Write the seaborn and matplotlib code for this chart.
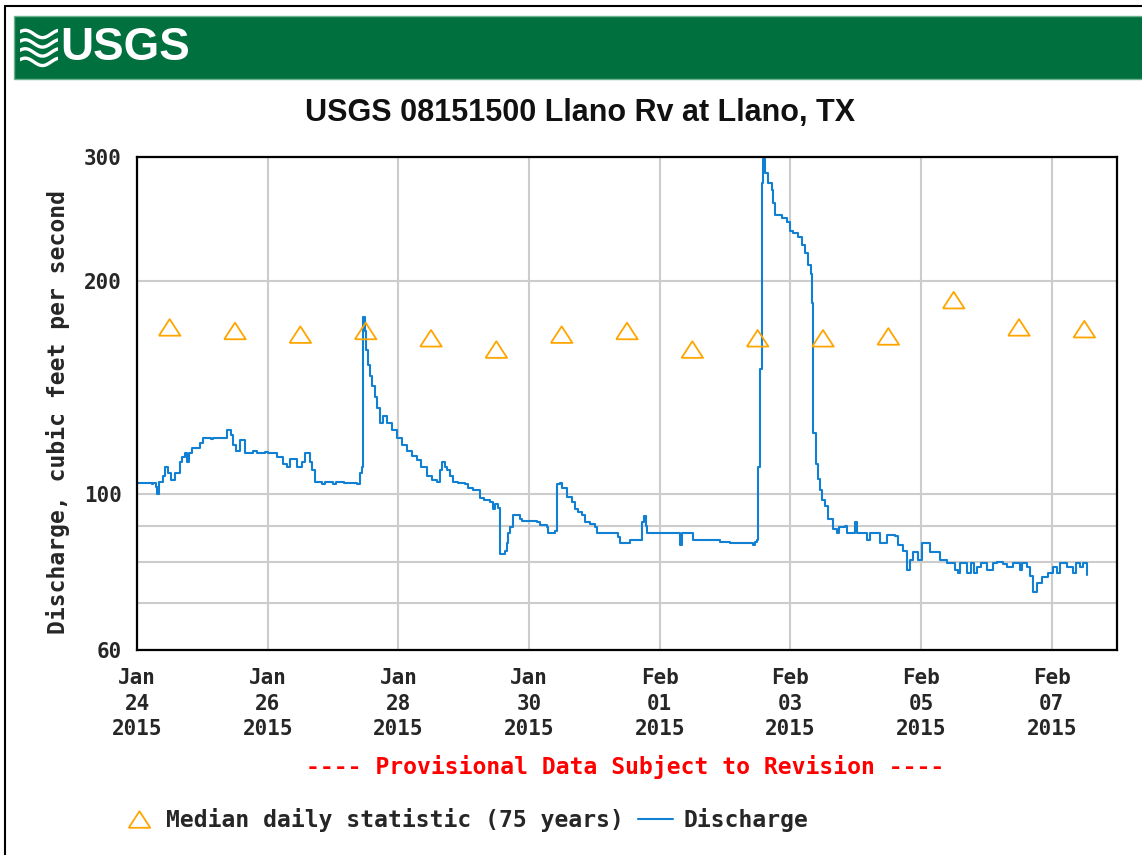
import numpy as np
import pandas as pd
import seaborn as sns
import matplotlib.pyplot as plt
import matplotlib.ticker as mticker
from matplotlib.patches import Rectangle
from matplotlib.lines import Line2D

sns.set_theme(style='white')
plt.rcParams['font.family'] = ['DejaVu Sans Mono', 'DejaVu Sans']

start = pd.Timestamp('2015-01-24')

# discharge (cfs), step series: hours after Jan 24 00:00
hours = [0.0, 5.5, 6.0, 7.0, 7.3, 8.0, 9.5, 10.3, 11.5, 12.4, 13.8, 15.8, 16.5, 17.6, 18.5, 19.2,
         20.2, 23.1, 24.2, 27.0, 28.0, 33.0, 34.6, 35.3, 36.5, 37.8, 39.7, 42.6, 44.1, 47.0, 48.0,
         51.4, 53.6, 55.1, 56.2, 58.8, 60.5, 61.8, 63.5, 64.3, 65.4, 68.0, 69.0, 72.0, 73.0, 76.0,
         80.8, 81.9, 82.6, 83.0, 83.6, 84.1, 85.0, 85.6, 86.5, 87.4, 88.3, 89.2, 90.5, 91.8, 93.5,
         95.5, 97.5, 99.1, 101.0, 102.8, 104.5, 106.5, 108.5, 110.2, 111.2, 112.0, 113.0, 113.8,
         115.0, 116.0, 117.9, 120.4, 121.5, 123.5, 126.0, 127.5, 129.6, 130.7, 131.5, 132.6, 133.3,
         135.1, 135.8, 136.2, 137.0, 138.1, 140.6, 141.4, 146.9, 148.0, 150.6, 150.9, 153.5, 154.2,
         155.5, 156.1, 157.9, 159.7, 160.8, 162.0, 163.4, 164.5, 166.5, 168.2, 168.9, 173.7, 176.6,
         177.4, 180.3, 181.0, 184.7, 185.4, 186.2, 186.8, 187.3, 199.4, 200.1, 203.1, 204.2, 208.0,
         214.1, 217.7, 226.2, 226.9, 227.7, 228.0, 228.8, 229.5, 229.9, 230.6, 231.7, 233.2, 233.5,
         234.3, 236.8, 238.7, 239.8, 240.9, 242.7, 244.2, 245.3, 246.4, 247.5, 247.9, 248.2, 249.3,
         250.1, 250.8, 251.7, 252.6, 253.7, 255.6, 257.0, 258.0, 260.0, 260.7, 262.9, 263.6, 264.4,
         266.6, 268.1, 269.2, 272.1, 272.8, 275.4, 278.3, 279.4, 281.3, 282.7, 283.9, 285.0, 286.4,
         286.8, 288.3, 290.1, 291.2, 293.0, 294.9, 297.4, 299.6, 300.5, 301.5, 302.4, 303.3, 305.0,
         306.5, 307.5, 308.4, 310.0, 312.1, 314.3, 316.0, 318.0, 319.5, 321.7, 324.2, 325.0, 326.8,
         328.0, 329.0, 330.5, 332.3, 334.5, 336.4, 338.0, 339.0, 341.5, 343.7, 345.0, 346.3, 347.5,
         348.8]
discharge = [103.5, 103.0, 103.5, 102.0, 100.0, 103.8, 106.0, 109.0, 107.0, 104.5, 107.0, 111.0,
             112.6, 114.0, 111.0, 114.0, 116.0, 118.0, 120.0, 119.5, 120.0, 123.0, 121.0, 117.0,
             115.0, 119.0, 114.0, 115.0, 114.0, 114.5, 114.0, 112.6, 110.0, 109.0, 112.0, 109.0,
             111.0, 114.0, 111.0, 108.0, 104.0, 103.0, 104.0, 103.0, 104.0, 103.5, 103.0, 107.0,
             109.0, 178.0, 170.0, 160.0, 152.0, 147.0, 142.0, 137.0, 132.0, 126.0, 129.0, 126.0,
             123.0, 120.0, 117.0, 115.0, 113.0, 111.5, 109.0, 106.0, 104.5, 103.8, 108.0, 111.0,
             109.0, 108.0, 106.0, 104.0, 103.5, 103.0, 101.8, 101.0, 98.5, 98.0, 97.3, 95.0, 96.5,
             95.4, 82.0, 83.0, 85.0, 88.0, 89.6, 93.2, 92.0, 91.5, 91.0, 90.2, 89.6, 88.0, 88.5,
             103.0, 103.5, 101.8, 99.0, 97.3, 95.0, 94.0, 93.2, 91.1, 90.5, 89.6, 87.9, 87.9, 86.8,
             85.0, 85.0, 86.0, 86.0, 91.0, 93.0, 90.0, 88.0, 84.5, 88.0, 88.0, 86.0, 86.0, 85.5,
             85.0, 84.5, 85.5, 86.0, 109.0, 150.0, 276.0, 298.0, 285.0, 276.0, 269.0, 258.0, 248.0,
             246.0, 243.0, 236.0, 234.0, 231.0, 225.0, 219.0, 211.0, 205.0, 186.0, 122.0, 110.0,
             105.0, 101.0, 98.0, 96.0, 92.0, 89.0, 88.0, 89.6, 90.0, 88.0, 88.0, 91.0, 88.0, 88.0,
             86.0, 88.0, 88.0, 85.0, 87.4, 87.0, 84.5, 83.0, 78.0, 80.5, 82.6, 82.6, 80.5, 85.1,
             85.1, 82.6, 82.6, 80.5, 79.7, 79.7, 78.0, 77.1, 79.7, 79.7, 77.1, 79.7, 77.1, 78.6,
             79.7, 77.9, 79.7, 80.0, 79.5, 78.6, 79.7, 77.9, 79.7, 78.6, 76.5, 72.5, 74.7, 76.1,
             77.1, 78.6, 77.1, 79.7, 78.6, 77.1, 79.7, 78.6, 79.7, 76.7]

# median daily statistic (75 years), plotted at noon
median_days = pd.date_range('2015-01-24', '2015-02-07', freq='D')
median_cfs = [172, 170, 168, 170, 166, 160, 168, 170, 160, 166, 166, 167, 188, 172, 171]

y_major = [60, 100, 200, 300]
y_minor = [70, 80, 90]
x_ticks = pd.date_range('2015-01-24', '2015-02-07', freq='2D')

df = pd.DataFrame({'time': start + pd.to_timedelta(hours, unit='h'), 'discharge': discharge})
med = pd.DataFrame({'time': median_days + pd.Timedelta(hours=12), 'median': median_cfs})

W, H = 1142, 855
fig = plt.figure(figsize=(W / 100, H / 100), dpi=100)
ax = fig.add_axes([137 / W, 1 - 650 / H, 980 / W, 493 / H])

blue = '#1180d3'
orange = '#ffa500'
sns.lineplot(data=df, x='time', y='discharge', ax=ax, drawstyle='steps-post',
             color=blue, linewidth=1.5, estimator=None, label='Discharge', legend=False)
tri = [(-1, -0.77), (1, -0.77), (0, 0.77), (-1, -0.77)]
sns.scatterplot(data=med, x='time', y='median', ax=ax, marker=tri, s=240,
                facecolors='none', edgecolor=orange, linewidth=1.3, zorder=3, legend=False)

ax.set_yscale('log')
ax.set_ylim(60, 300)
ax.set_xlim(pd.Timestamp('2015-01-24'), pd.Timestamp('2015-02-08'))
ax.yaxis.set_major_locator(mticker.FixedLocator(y_major))
ax.yaxis.set_major_formatter(mticker.FormatStrFormatter('%d'))
ax.yaxis.set_minor_locator(mticker.FixedLocator(y_minor))
ax.yaxis.set_minor_formatter(mticker.NullFormatter())
ax.set_xticks(x_ticks)
ax.set_xticklabels([d.strftime('%b\n%d\n%Y') for d in x_ticks], linespacing=1.35)
ax.grid(True, which='both', color='#cccccc', linewidth=1.5)
ax.set_axisbelow(True)
ax.tick_params(axis='both', which='both', length=0, labelsize=15)
ax.tick_params(axis='x', pad=13)
ax.tick_params(axis='y', pad=11)
for lab in ax.get_xticklabels() + ax.get_yticklabels():
    lab.set_fontweight('bold')
ax.set_xlabel('')
ax.set_ylabel('Discharge, cubic feet per second', fontsize=16.6, fontweight='bold')
ax.yaxis.set_label_coords(-0.068, 0.483)
for s in ax.spines.values():
    s.set_color('black')
    s.set_linewidth(1.6)

# page frame and banner
fig.add_artist(Line2D([5 / W, 5 / W], [0, 1 - 6 / H], color='black', lw=1.5))
fig.add_artist(Line2D([5 / W, 1], [1 - 6 / H, 1 - 6 / H], color='black', lw=1.5))
fig.add_artist(Rectangle((14 / W, 1 - 79 / H), 1, 63 / H, transform=fig.transFigure,
                         facecolor='#00703f', edgecolor='#6cb38f', lw=1, zorder=0))
logo = fig.add_axes([20 / W, 1 - 68 / H, 38 / W, 41 / H], zorder=5)
logo.patch.set_alpha(0)
lx = np.linspace(0, 1, 50)
for c in [0.15, 0.38, 0.6, 0.83]:
    logo.plot(lx, c + 0.09 * np.sin(2 * np.pi * (lx * 1.1 + 0.1)), color='white', lw=2.4)
logo.set_xlim(0, 1)
logo.set_ylim(0, 1)
logo.axis('off')
cond = ['DejaVu Sans Condensed', 'Liberation Sans']
fig.text(60 / W, 1 - 48 / H, 'USGS', color='white', fontsize=33, fontweight='bold',
         family=cond, fontstretch='condensed', ha='left', va='center', zorder=6)

fig.text(580 / W, 1 - 113 / H, 'USGS 08151500 Llano Rv at Llano, TX', fontsize=22,
         fontweight='bold', family=cond, fontstretch='condensed',
         ha='center', va='center', color='#111111')
fig.text(625 / W, 1 - 767 / H, '---- Provisional Data Subject to Revision ----', color='red',
         fontsize=16.6, fontweight='bold', ha='center', va='center')

handles = [Line2D([], [], marker=tri, markersize=15.5, markerfacecolor='none',
                  markeredgecolor=orange, markeredgewidth=1.3, linestyle=''),
           Line2D([], [], color=blue, lw=1.5)]
fig.legend(handles, ['Median daily statistic (75 years)', 'Discharge'], ncol=2,
           loc='center left', bbox_to_anchor=(121 / W, 1 - 820 / H), frameon=False,
           prop={'size': 16.6, 'weight': 'bold'}, handlelength=1.52, handletextpad=0.45,
           columnspacing=0.6, borderpad=0, borderaxespad=0)

fig.savefig('out.png', dpi=100, facecolor='white')
